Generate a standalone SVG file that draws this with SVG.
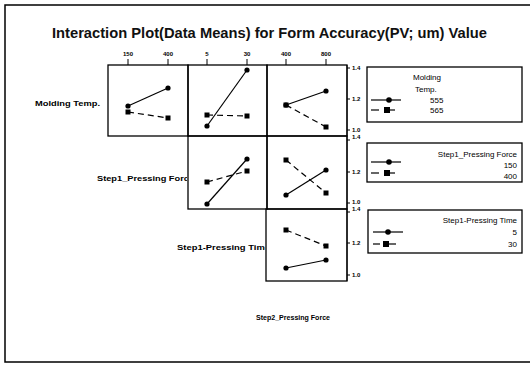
<svg xmlns="http://www.w3.org/2000/svg" width="530" height="365" viewBox="0 0 530 365">
<style>
.frame{fill:none;stroke:#000;stroke-width:1.5}
.panel{fill:none;stroke:#000;stroke-width:1.3}
.ax{stroke:#000;stroke-width:1}
.solid{stroke:#000;stroke-width:1.2;fill:none}
.dash{stroke:#000;stroke-width:1.2;fill:none;stroke-dasharray:6 4}
.title{font-family:"Liberation Sans",Arial,sans-serif;font-size:15px;font-weight:bold;fill:#111}
.tick{font-family:"Liberation Sans",Arial,sans-serif;font-size:6px;font-weight:bold;fill:#000}
.var{font-family:"Liberation Sans",Arial,sans-serif;font-size:7px;font-weight:bold;fill:#000}
.leg{font-family:"Liberation Sans",Arial,sans-serif;font-size:8px;fill:#000}
.box{fill:none;stroke:#000;stroke-width:1.3}
</style>
<defs>
<clipPath id="c1"><rect x="0" y="160" width="187" height="30"/></clipPath>
<clipPath id="c2"><rect x="0" y="235" width="265" height="30"/></clipPath>
</defs>
<rect width="530" height="365" fill="#fff"/>
<path class="frame" d="M531,5 H5 V362 H531"/>
<text class="title" x="52" y="38" textLength="435" lengthAdjust="spacingAndGlyphs">Interaction Plot(Data Means) for Form Accuracy(PV; um) Value</text>

<g id="top-axis">
<line class="ax" x1="128" y1="59" x2="128" y2="65"/>
<line class="ax" x1="168" y1="59" x2="168" y2="65"/>
<line class="ax" x1="207" y1="59" x2="207" y2="65"/>
<line class="ax" x1="247" y1="59" x2="247" y2="65"/>
<line class="ax" x1="286" y1="59" x2="286" y2="65"/>
<line class="ax" x1="326" y1="59" x2="326" y2="65"/>
<g class="tick" text-anchor="middle">
<text x="128" y="56">150</text><text x="168" y="56">400</text>
<text x="207" y="56">5</text><text x="247" y="56">30</text>
<text x="286" y="56">400</text><text x="326" y="56">800</text>
</g>
</g>

<g id="right-axis">
<line class="ax" x1="347" y1="65" x2="347" y2="281"/>
<g class="ax">
<line x1="347" y1="68" x2="350" y2="68"/><line x1="347" y1="99" x2="350" y2="99"/><line x1="347" y1="130" x2="350" y2="130"/>
<line x1="347" y1="140" x2="350" y2="140"/><line x1="347" y1="172" x2="350" y2="172"/><line x1="347" y1="203" x2="350" y2="203"/>
<line x1="347" y1="212" x2="350" y2="212"/><line x1="347" y1="243" x2="350" y2="243"/><line x1="347" y1="275" x2="350" y2="275"/>
</g>
<g class="tick">
<text x="352" y="70">1.4</text><text x="352" y="101">1.2</text><text x="352" y="132">1.0</text>
<text x="352" y="139">1.4</text><text x="352" y="174">1.2</text><text x="352" y="204">1.0</text>
<text x="352" y="211">1.4</text><text x="352" y="245">1.2</text><text x="352" y="277">1.0</text>
</g>
</g>

<g id="labels">
<text class="var" x="35" y="106" textLength="65" lengthAdjust="spacingAndGlyphs">Molding Temp.</text>
<g clip-path="url(#c1)"><text class="var" x="97" y="181" textLength="97" lengthAdjust="spacingAndGlyphs">Step1_Pressing Force</text></g>
<g clip-path="url(#c2)"><text class="var" x="177" y="250" textLength="93" lengthAdjust="spacingAndGlyphs">Step1-Pressing Time</text></g>
<text class="var" x="256" y="320" textLength="74" lengthAdjust="spacingAndGlyphs">Step2_Pressing Force</text>
</g>

<g id="panel-r1c1">
<rect class="panel" x="108" y="65" width="80" height="71"/>
<line class="solid" x1="128" y1="106" x2="168" y2="88"/>
<line class="dash" x1="128" y1="112" x2="168" y2="118"/>
<circle cx="128" cy="106" r="2.6"/><circle cx="168" cy="88" r="2.6"/>
<rect x="125.5" y="109.5" width="5" height="5"/><rect x="165.5" y="115.5" width="5" height="5"/>
</g>
<g id="panel-r1c2">
<rect class="panel" x="188" y="65" width="79" height="71"/>
<line class="solid" x1="207" y1="126" x2="247" y2="70"/>
<line class="dash" x1="207" y1="115" x2="247" y2="116"/>
<circle cx="207" cy="126" r="2.6"/><circle cx="247" cy="70" r="2.6"/>
<rect x="204.5" y="112.5" width="5" height="5"/><rect x="244.5" y="113.5" width="5" height="5"/>
</g>
<g id="panel-r1c3">
<rect class="panel" x="267" y="65" width="80" height="71"/>
<line class="solid" x1="286" y1="105" x2="326" y2="91"/>
<line class="dash" x1="286" y1="105" x2="326" y2="127"/>
<circle cx="326" cy="91" r="2.6"/>
<rect x="283.5" y="102.5" width="5" height="5"/><circle cx="286" cy="105" r="2.6"/>
<rect x="323.5" y="124.5" width="5" height="5"/>
</g>
<g id="panel-r2c2">
<rect class="panel" x="188" y="136" width="79" height="73"/>
<line class="solid" x1="207" y1="204" x2="247" y2="159"/>
<line class="dash" x1="207" y1="182" x2="247" y2="171"/>
<circle cx="207" cy="204" r="2.6"/><circle cx="247" cy="159" r="2.6"/>
<rect x="204.5" y="179.5" width="5" height="5"/><rect x="244.5" y="168.5" width="5" height="5"/>
</g>
<g id="panel-r2c3">
<rect class="panel" x="267" y="136" width="80" height="73"/>
<line class="solid" x1="286" y1="195" x2="326" y2="170"/>
<line class="dash" x1="286" y1="160" x2="326" y2="193"/>
<circle cx="286" cy="195" r="2.6"/><circle cx="326" cy="170" r="2.6"/>
<rect x="283.5" y="157.5" width="5" height="5"/><rect x="323.5" y="190.5" width="5" height="5"/>
</g>
<g id="panel-r3c3">
<rect class="panel" x="266" y="209" width="81" height="72"/>
<line class="solid" x1="286" y1="268" x2="326" y2="260"/>
<line class="dash" x1="286" y1="230" x2="326" y2="246"/>
<circle cx="286" cy="268" r="2.6"/><circle cx="326" cy="260" r="2.6"/>
<rect x="283.5" y="227.5" width="5" height="5"/><rect x="323.5" y="243.5" width="5" height="5"/>
</g>

<g id="legend-molding">
<rect class="box" x="367" y="67" width="155" height="55"/>
<text class="leg" x="413" y="80">Molding</text>
<text class="leg" x="415" y="92">Temp.</text>
<line class="solid" x1="371" y1="100" x2="401" y2="100"/><circle cx="389" cy="100" r="2.8"/>
<line class="solid" x1="371" y1="110" x2="379" y2="110"/><line class="solid" x1="384" y1="110" x2="395" y2="110"/><rect x="384" y="107" width="6" height="6"/>
<text class="leg" x="430" y="103">555</text>
<text class="leg" x="430" y="113">565</text>
</g>
<g id="legend-force">
<rect class="box" x="367" y="143" width="155" height="39"/>
<text class="leg" x="517" y="157" text-anchor="end">Step1_Pressing Force</text>
<line class="solid" x1="371" y1="162" x2="401" y2="162"/><circle cx="389" cy="162" r="2.8"/>
<line class="solid" x1="371" y1="173" x2="379" y2="173"/><line class="solid" x1="384" y1="173" x2="395" y2="173"/><rect x="384" y="170" width="6" height="6"/>
<text class="leg" x="517" y="168" text-anchor="end">150</text>
<text class="leg" x="517" y="179" text-anchor="end">400</text>
</g>
<g id="legend-time">
<rect class="box" x="368" y="210" width="154" height="43"/>
<text class="leg" x="517" y="223" text-anchor="end">Step1-Pressing Time</text>
<line class="solid" x1="373" y1="232" x2="403" y2="232"/><circle cx="388" cy="232" r="2.8"/>
<line class="solid" x1="373" y1="244" x2="380" y2="244"/><line class="solid" x1="385" y1="244" x2="396" y2="244"/><rect x="383" y="241" width="6" height="6"/>
<text class="leg" x="517" y="235" text-anchor="end">5</text>
<text class="leg" x="517" y="247" text-anchor="end">30</text>
</g>
</svg>
